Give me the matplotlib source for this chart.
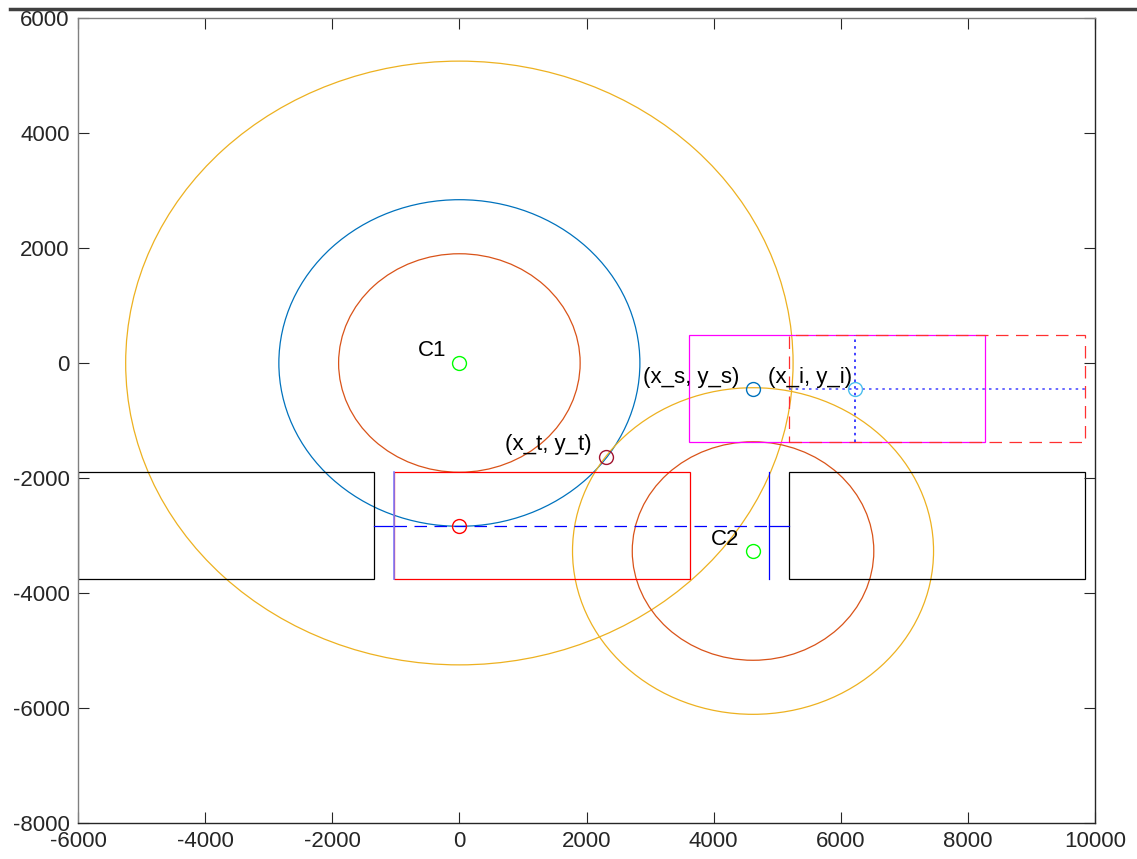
import numpy as np
import matplotlib
matplotlib.use("Agg")
import matplotlib.pyplot as plt
from matplotlib.patches import Circle, Rectangle
from matplotlib.lines import Line2D

plt.rcParams['font.family'] = ['Liberation Sans', 'DejaVu Sans']
plt.rcParams['axes.unicode_minus'] = False

# ---- data ----
C1 = (0, 0)
C2 = (4620, -3270)
r_inner = 1900           # red circles (C1 and C2)
r_mid = 2840             # blue circle (C1), orange circle (C2)
r_outer = 5250           # big orange circle (C1)

rect_w = 4656
rect_h = 1860
lane_top = -1900
black_left_x = -6000
black_right_x = 5182
red_rect_x = -1028
magenta_x = 3610
upper_y = -1374
dashed_rect_x = 5182

blue_vline_x = 4874
dash_y = -2840
p_s = (4620, -452)
p_i = (6220, -452)
p_t = (2307, -1635)
p_low = (0, -2840)

labels = ["C1", "C2", "(x_s, y_s)", "(x_i, y_i)", "(x_t, y_t)"]
label_pos = [(-200, 210), (4410, -3075), (4410, -260), (4850, -260), (2085, -1425)]
label_ha = ["right", "right", "right", "left", "right"]

xticks = [-6000, -4000, -2000, 0, 2000, 4000, 6000, 8000, 10000]
yticks = [-8000, -6000, -4000, -2000, 0, 2000, 4000, 6000]

# ---- colours ----
c_blue = '#0072BD'
c_orange = '#D95319'
c_yellow = '#EDB120'
c_lblue = '#4DBEEE'
c_dred = '#A2142F'

fig = plt.figure(figsize=(11.37, 8.59), dpi=100)
ax = fig.add_axes([78/1137, 36/859, (1095-78)/1137, (823-18)/859])

lw = 0.9
ax.add_patch(Circle(C1, r_outer, fill=False, ec=c_yellow, lw=lw))
ax.add_patch(Circle(C1, r_mid, fill=False, ec=c_blue, lw=lw))
ax.add_patch(Circle(C1, r_inner, fill=False, ec=c_orange, lw=lw))
ax.add_patch(Circle(C2, r_inner, fill=False, ec=c_orange, lw=lw))
ax.add_patch(Circle(C2, r_mid, fill=False, ec=c_yellow, lw=lw))

lane_bot = lane_top - rect_h
ax.add_patch(Rectangle((black_left_x, lane_bot), rect_w, rect_h, fill=False, ec='k', lw=lw))
ax.add_patch(Rectangle((black_right_x, lane_bot), rect_w, rect_h, fill=False, ec='k', lw=lw))
ax.add_patch(Rectangle((red_rect_x, lane_bot), rect_w, rect_h, fill=False, ec='#FF0000', lw=lw))
ax.add_patch(Rectangle((magenta_x, upper_y), rect_w, rect_h, fill=False, ec='#FF00FF', lw=lw))
ax.add_patch(Rectangle((dashed_rect_x, upper_y), rect_w, rect_h, fill=False, ec='#FF3030', lw=lw,
                       ls=(0, (10, 6))))

# blue lines
ax.plot([red_rect_x, red_rect_x], [lane_top, lane_bot], color='#7f7fff', lw=lw + 0.3, zorder=3)
ax.plot([blue_vline_x, blue_vline_x], [lane_top, lane_bot], color='#0000FF', lw=lw)
ax.plot([black_left_x + rect_w, red_rect_x], [dash_y, dash_y], color='#0000FF', lw=lw)
ax.plot([red_rect_x, blue_vline_x], [dash_y, dash_y], color='#0000FF', lw=lw, ls=(0, (10, 6)))
ax.plot([blue_vline_x, black_right_x], [dash_y, dash_y], color='#0000FF', lw=lw)

# dotted lines through intersection point
ax.plot([dashed_rect_x, dashed_rect_x + rect_w], [p_i[1], p_i[1]], color='#5050FF', lw=lw + 0.3,
        ls=(0, (1.5, 2.5)))
ax.plot([p_i[0], p_i[0]], [upper_y, upper_y + rect_h], color='#2020FF', lw=lw + 0.3,
        ls=(0, (1.5, 2.5)))

# markers
ms = 10
mk = dict(marker='o', mfc='none', ms=ms, mew=1.0, ls='none', zorder=4)
ax.plot(*C1, mec='#00FF00', **mk)
ax.plot(*C2, mec='#00FF00', **mk)
ax.plot(*p_s, mec=c_blue, **mk)
ax.plot(*p_i, mec=c_lblue, **mk)
ax.plot(*p_t, mec=c_dred, **mk)
ax.plot(*p_low, mec='#FF0000', **mk)

for t, (x, y), ha in zip(labels, label_pos, label_ha):
    ax.text(x, y, t, ha=ha, va='center', fontsize=16, color='k')

ax.set_xlim(-6000, 10000)
ax.set_ylim(-8000, 6000)
ax.set_xticks(xticks)
ax.set_yticks(yticks)
ax.tick_params(direction='in', length=8, width=0.8, top=True, right=True,
               labelsize=16, colors='#262626', pad=6)
for s in ax.spines.values():
    s.set_color('#262626')
    s.set_linewidth(1.0)
ax.spines['top'].set_color('#808080')
ax.spines['left'].set_color('#808080')

# top dark line of the figure
fig.add_artist(Line2D([10/1137, 1.0], [1 - 9/859, 1 - 9/859], color='#404040', lw=2.5,
                      transform=fig.transFigure))

fig.savefig('out.png', dpi=100)
